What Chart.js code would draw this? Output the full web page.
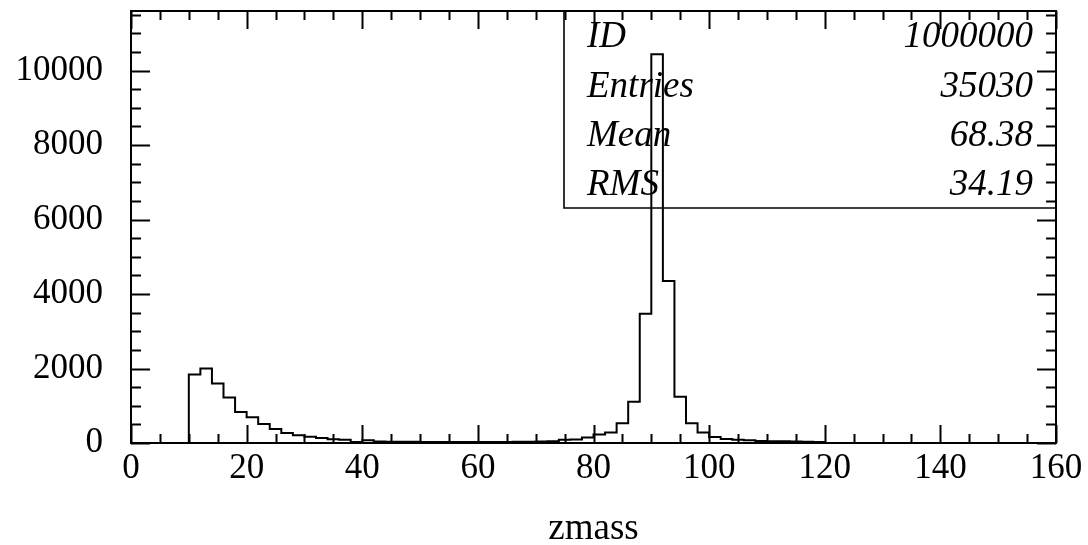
<!DOCTYPE html>
<html><head><meta charset="utf-8">
<script src="https://cdn.jsdelivr.net/npm/chart.js@4/dist/chart.umd.min.js"></script>
<style>html,body{margin:0;padding:0;background:#fff;} #wrap{width:1088px;height:545px;position:relative;}</style>
</head><body><div id="wrap"><canvas id="c" width="1088" height="545"></canvas></div>
<script>
// Histogram bins (lower edges, width 2) and final upper edge
const binLowEdges = [10,12,14,16,18,20,22,24,26,28,30,32,34,36,38,40,42,44,46,48,50,52,54,56,58,60,62,64,66,68,70,72,74,76,78,80,82,84,86,88,90,92,94,96,98,100,102,104,106,108,110,112,114,116,118];
const lastUpperEdge = 120;
const counts = [1837,1998,1595,1219,833,690,511,376,269,206,170,134,100,88,30,75,40,36,34,32,30,30,28,28,27,28,28,30,32,35,38,50,90,95,145,228,285,528,1110,3470,10440,4350,1245,530,285,160,110,90,75,55,50,45,40,35,30];
const xTickValues = [0,20,40,60,80,100,120,140,160];
const yTickValues = [0,2000,4000,6000,8000,10000];
const xMinorStep = 5;
const yMinorStep = 500;
const xTitle = 'zmass';
const statsLabels = ['ID','Entries','Mean','RMS'];
const statsValues = ['1000000','35030','68.38','34.19'];

const points = [{x: binLowEdges[0], y: 0}];
binLowEdges.forEach((e, i) => points.push({x: e, y: counts[i]}));
points.push({x: lastUpperEdge, y: counts[counts.length - 1]});
points.push({x: lastUpperEdge, y: 0});

const serif = '"Liberation Serif", "Times New Roman", serif';

const framePlugin = {
  id: 'frame',
  afterDatasetsDraw(chart) {
    const ctx = chart.ctx;
    const {left, right, top, bottom} = chart.chartArea;
    const xs = chart.scales.x, ys = chart.scales.y;
    ctx.save();
    ctx.strokeStyle = '#000';
    ctx.lineWidth = 2;
    ctx.strokeRect(left, top, right - left, bottom - top);
    ctx.beginPath();
    for (let v = xs.min; v <= xs.max + 1e-9; v += xMinorStep) {
      const px = Math.round(xs.getPixelForValue(v)) + 0.5;
      const len = (v % 20 === 0) ? 18 : 9;
      ctx.moveTo(px, bottom); ctx.lineTo(px, bottom - len);
      ctx.moveTo(px, top); ctx.lineTo(px, top + len);
    }
    for (let v = ys.min; v <= ys.max + 1e-9; v += yMinorStep) {
      const py = Math.round(ys.getPixelForValue(v)) + 0.5;
      const len = (v % 2000 === 0) ? 19 : 10;
      ctx.moveTo(left, py); ctx.lineTo(left + len, py);
      ctx.moveTo(right, py); ctx.lineTo(right - len, py);
    }
    ctx.stroke();

    // statistics box
    const bx = right - 492, by = top, bh = 197;
    ctx.lineWidth = 1.6;
    ctx.beginPath();
    ctx.moveTo(bx, by); ctx.lineTo(bx, by + bh); ctx.lineTo(right, by + bh);
    ctx.stroke();
    ctx.fillStyle = '#000';
    ctx.font = 'italic 37px ' + serif;
    ctx.textBaseline = 'middle';
    const rowH = bh / statsLabels.length;
    statsLabels.forEach((lab, i) => {
      const cy = by + rowH * (i + 0.5) + 2;
      ctx.textAlign = 'left';
      ctx.fillText(lab, bx + 23, cy);
      ctx.textAlign = 'right';
      ctx.fillText(statsValues[i], right - 23, cy);
    });
    ctx.restore();
  }
};

new Chart(document.getElementById('c'), {
  type: 'line',
  data: {
    datasets: [{
      data: points,
      stepped: 'before',
      borderColor: '#000',
      borderWidth: 2,
      pointRadius: 0,
      fill: false,
      tension: 0
    }]
  },
  options: {
    responsive: false,
    animation: false,
    layout: {padding: {left: 0, right: 32, top: 11, bottom: 0}},
    plugins: {legend: {display: false}, tooltip: {enabled: false}},
    scales: {
      x: {
        type: 'linear', position: 'bottom', min: 0, max: 160,
        grid: {display: false, drawTicks: false},
        border: {display: false},
        afterBuildTicks: s => { s.ticks = xTickValues.map(v => ({value: v})); },
        afterFit: s => { s.height = 102; s.paddingLeft = 0; s.paddingRight = 0; },
        ticks: {color: '#000', padding: 5, maxRotation: 0, autoSkip: false,
          font: {family: serif, size: 35}, callback: v => String(v)},
        title: {display: true, text: xTitle, color: '#000',
          font: {family: serif, size: 37, lineHeight: 1.0}, padding: {top: 0, bottom: -3}}
      },
      y: {
        type: 'linear', position: 'left', min: 0, max: 11600,
        grid: {display: false, drawTicks: false},
        border: {display: false},
        afterBuildTicks: s => { s.ticks = yTickValues.map(v => ({value: v})); },
        afterFit: s => { s.width = 131; s.paddingTop = 0; s.paddingBottom = 0; },
        ticks: {color: '#000', padding: 28, autoSkip: false,
          font: {family: serif, size: 35}, callback: v => String(v)}
      }
    }
  },
  plugins: [framePlugin]
});
</script>
</body></html>
